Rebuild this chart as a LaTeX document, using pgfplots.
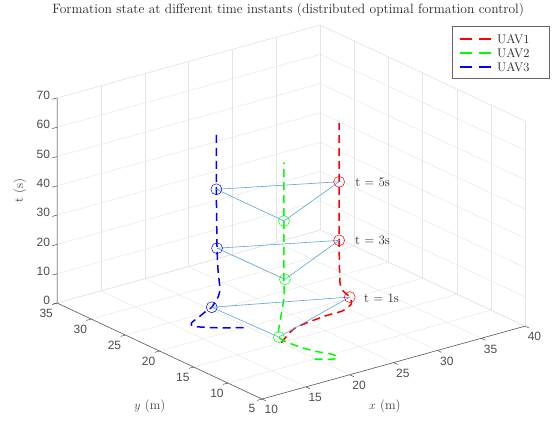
\documentclass[border=0pt]{standalone}
\usepackage{pgfplots}
\pgfplotsset{compat=1.18}
\usepackage{fontspec}
\newfontfamily\tickfont{Liberation Sans}
\definecolor{uavr}{rgb}{1,0,0}
\definecolor{uavg}{rgb}{0,1,0}
\definecolor{uavb}{rgb}{0,0,1}
\definecolor{formc}{rgb}{0.35,0.65,0.85}
\definecolor{gridc}{gray}{0.9}
\definecolor{axc}{gray}{0.3}
\begin{document}
\begin{tikzpicture}
\begin{axis}[
  x={(8.77pt,2.43pt)}, y={(-6.83pt,3.2pt)}, z={(0pt,2.93pt)},
  xmin=10, xmax=40, ymin=5, ymax=35, zmin=0, zmax=70,
  xtick={10,15,...,40}, ytick={5,10,...,35}, ztick={0,10,...,70},
  grid=major, major grid style={gridc, line width=0.4pt},
  axis line style={gridc, line width=0.4pt},
  tick align=outside, major tick length=4pt, tick style={draw=none},
  ticklabel style={font=\tickfont\fontsize{12}{14}\selectfont, text=axc},
  /pgf/number format/assume math mode=true,
  clip=false,
  xlabel={$x$ (m)}, ylabel={$y$ (m)}, zlabel={t (s)},
  label style={font=\fontsize{13}{15}\selectfont, text=black!75},
  xlabel style={at={(axis cs:17.7,-3.1,0)}, anchor=center},
  ylabel style={at={(axis cs:0.9,9.72,0)}, anchor=center},
  zlabel style={at={(axis cs:8.8,38.9,35)}, anchor=center},
  title={Formation state at different time instants (distributed optimal formation control)},
  title style={at={(axis cs:39.07,38.5,70)}, anchor=center, font=\fontsize{13.5}{15}\selectfont, text=black!85},
]
\coordinate (front) at (axis cs:10,5,0);
\addplot3[uavr, line width=1.5pt, dash pattern=on 8pt off 5pt, smooth, tension=0.4] coordinates {
(20,15,0) (22.1,15.7,2.5) (25.0,15.0,5) (26.1,13.9,7) (27.1,13.9,8.5) (27.4,14.5,10)
(26.5,14.3,13) (26.0,14.1,16) (26.3,14.6,22) (26.35,14.7,30) (26.35,14.7,50) (26.35,14.7,70)};
\addplot3[uavg, line width=1.5pt, dash pattern=on 8pt off 5pt, smooth, tension=0.4] coordinates {
(19.9,10.0,0) (20.5,8.5,1) (20.8,7.8,2) (20.55,8.15,3) (19.1,8.95,4.5) (17.7,9.8,6.5) (16.2,10.5,10)
(16.1,10.1,17) (16.4,10.0,24) (16.4,10.0,30) (16.4,10.0,50) (16.4,10.0,70)};
\addplot3[uavb, line width=1.5pt, dash pattern=on 8pt off 5pt, smooth, tension=0.4] coordinates {
(19.6,20.0,0) (16.95,21.1,1) (15.3,21.9,2) (15.3,22.1,3) (15.8,21.5,5.5) (16.1,21.0,7.5) (15.95,20.0,10)
(16.8,20.1,13) (16.8,19.9,16) (16.6,19.9,22) (16.4,19.8,30) (16.4,19.9,50) (16.4,19.9,70)};
% formation triangles
\addplot3[formc, line width=0.6pt] coordinates {(15.95,20.0,10) (27.4,14.5,10) (16.2,10.5,10) (15.95,20.0,10)};
\addplot3[formc, line width=0.6pt] coordinates {(16.4,19.8,30) (26.35,14.7,30) (16.5,10.0,30) (16.4,19.8,30)};
\addplot3[formc, line width=0.6pt] coordinates {(16.4,19.9,50) (26.35,14.7,50) (16.4,10.0,50) (16.4,19.9,50)};
% markers
\addplot3[only marks, mark=o, mark size=5.5pt, mark options={uavr, line width=0.5pt}] coordinates {(27.4,14.5,10) (26.35,14.7,30) (26.35,14.7,50)};
\addplot3[only marks, mark=o, mark size=5.5pt, mark options={uavg, line width=0.5pt}] coordinates {(16.2,10.5,10) (16.5,10.0,30) (16.4,10.0,50)};
\addplot3[only marks, mark=o, mark size=5.5pt, mark options={uavb, line width=0.5pt}] coordinates {(15.95,20.0,10) (16.4,19.8,30) (16.4,19.9,50)};
% main axis lines and ticks
\draw[axc, line width=0.5pt] (axis cs:10,35,70) -- (axis cs:10,35,0) -- (axis cs:10,5,0) -- (axis cs:40,5,0);
\pgfplotsinvokeforeach{10,15,20,25,30,35,40}{\draw[axc, line width=0.5pt] (axis cs:#1,5,0) -- (axis cs:#1,4.4,0);}
\pgfplotsinvokeforeach{5,10,15,20,25,30,35}{\draw[axc, line width=0.5pt] (axis cs:10,#1,0) -- (axis cs:9.45,#1,0);}
\pgfplotsinvokeforeach{0,10,20,30,40,50,60,70}{\draw[axc, line width=0.5pt] (axis cs:10,35,#1) -- (axis cs:9.45,35,#1);}
% time labels
\node[anchor=west, font=\fontsize{13}{15}\selectfont, text=black!85, inner sep=0pt] at (axis cs:28.27,13.53,10) {t = 1s};
\node[anchor=west, font=\fontsize{13}{15}\selectfont, text=black!85, inner sep=0pt] at (axis cs:27.54,13.9,30) {t = 3s};
\node[anchor=west, font=\fontsize{13}{15}\selectfont, text=black!85, inner sep=0pt] at (axis cs:27.45,13.78,50) {t = 5s};
\end{axis}
% legend
\filldraw[fill=white, draw=black!60, line width=0.4pt] ([shift={(190pt,321pt)}]front) rectangle ([shift={(287pt,373pt)}]front);
\draw[uavr, line width=1.6pt, dash pattern=on 12pt off 7pt] ([shift={(198pt,360pt)}]front) -- ++(31pt,0pt);
\draw[uavg, line width=1.6pt, dash pattern=on 12pt off 7pt] ([shift={(198pt,346pt)}]front) -- ++(31pt,0pt);
\draw[uavb, line width=1.6pt, dash pattern=on 12pt off 7pt] ([shift={(198pt,332pt)}]front) -- ++(31pt,0pt);
\node[anchor=west, font=\fontsize{12.5}{14}\selectfont, text=black!85, inner sep=0pt] at ([shift={(235pt,360pt)}]front) {UAV1};
\node[anchor=west, font=\fontsize{12.5}{14}\selectfont, text=black!85, inner sep=0pt] at ([shift={(235pt,346pt)}]front) {UAV2};
\node[anchor=west, font=\fontsize{12.5}{14}\selectfont, text=black!85, inner sep=0pt] at ([shift={(235pt,332pt)}]front) {UAV3};
\path ([shift={(-262pt,-22pt)}]front) rectangle ([shift={(291pt,393pt)}]front);
\end{tikzpicture}
\end{document}
